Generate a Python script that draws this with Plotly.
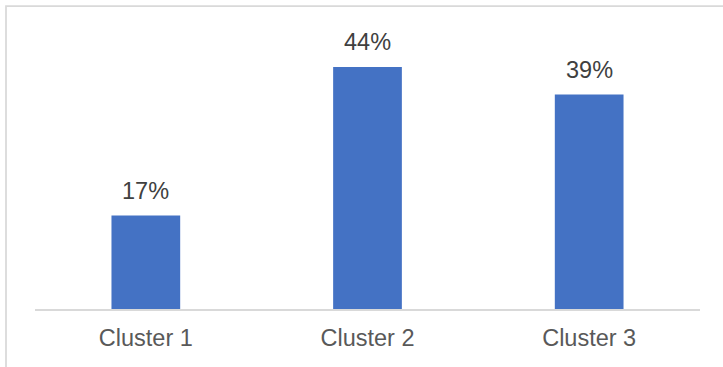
import plotly.graph_objects as go

# Share of members in each cluster (%)
clusters = ["Cluster 1", "Cluster 2", "Cluster 3"]
shares = [17, 44, 39]
share_labels = ["17%", "44%", "39%"]

W, H = 723, 367
L, R, T, B = 35, 23, 33, 58
plot_w = W - L - R
plot_h = H - T - B

fig = go.Figure()
fig.add_trace(go.Bar(
    x=clusters,
    y=shares,
    marker=dict(color="#4472C4", line=dict(width=0)),
    width=0.31,
    hoverinfo="skip",
))

# value labels above each bar
for c, v, t in zip(clusters, shares, share_labels):
    fig.add_annotation(
        x=c, y=v, text=t, showarrow=False,
        yanchor="bottom", yshift=10,
        font=dict(family="Liberation Sans, Arial, sans-serif", size=23.5, color="#404040"),
    )

# light grey chart-area frame
def px_x(px):
    return (px - L) / plot_w

def px_y(py):
    return (H - B - py) / plot_h

fig.add_shape(
    type="rect", xref="paper", yref="paper",
    x0=px_x(6), x1=px_x(740), y0=px_y(390), y1=px_y(6),
    line=dict(color="#d9d9d9", width=1.75), fillcolor="rgba(0,0,0,0)",
    layer="below",
)

fig.update_layout(
    width=W, height=H,
    margin=dict(l=L, r=R, t=T, b=B),
    paper_bgcolor="white", plot_bgcolor="white",
    showlegend=False,
    bargap=0.69,
    font=dict(family="Liberation Sans, Arial, sans-serif", size=23.5, color="#595959"),
    xaxis=dict(
        showline=True, linecolor="#d9d9d9", linewidth=1.5,
        showgrid=False, ticks="", zeroline=False,
        ticklabelstandoff=7,
        tickfont=dict(size=23.5, color="#595959"),
    ),
    yaxis=dict(
        range=[0, 50.2], visible=False, showgrid=False, zeroline=False,
    ),
)

fig.write_html("out.html")
